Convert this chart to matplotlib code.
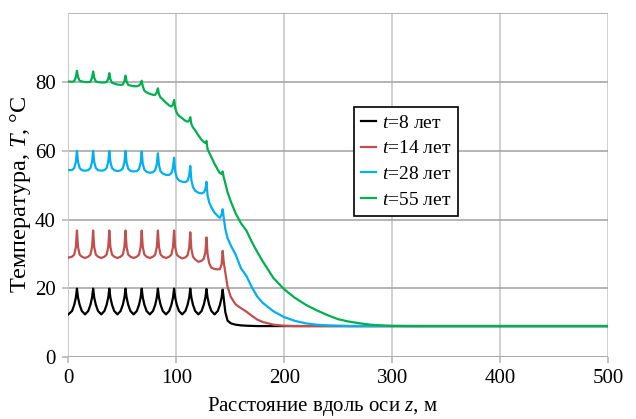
import matplotlib
matplotlib.use("Agg")
import matplotlib.pyplot as plt

# distance along the z axis, m (common grid for all curves)
Z = [0,
     3.5, 5.5, 7, 8, 9, 10.5, 12.5, 15.5,
     18.5, 20.5, 22, 23, 24, 25.5, 27.5, 30.5,
     33.5, 35.5, 37, 38, 39, 40.5, 42.5, 45.5,
     48.5, 50.5, 52, 53, 54, 55.5, 57.5, 60.5,
     63.5, 65.5, 67, 68, 69, 70.5, 72.5, 75.5,
     78.5, 80.5, 82, 83, 84, 85.5, 87.5, 90.5,
     93.5, 95.5, 97, 98, 99, 100.5, 102.5, 105.5,
     108.5, 110.5, 112, 113, 114, 115.5, 117.5, 120.5,
     123.5, 125.5, 127, 128, 129, 130.5, 132.5, 135.5,
     138.5, 140.5, 142, 143, 144, 145.5, 147.5, 150.5,
     155, 160, 165, 170, 175, 180, 190, 200, 210, 220, 230,
     240, 250, 260, 270, 280, 290, 300, 320, 350, 400, 450, 500]

T_8 = [12.4,
       13.4, 15.2, 17.3, 19.9, 17.3, 15.2, 13.4, 12.4,
       13.4, 15.2, 17.3, 19.9, 17.3, 15.2, 13.4, 12.4,
       13.4, 15.2, 17.3, 19.9, 17.3, 15.2, 13.4, 12.4,
       13.4, 15.2, 17.3, 19.9, 17.3, 15.2, 13.4, 12.4,
       13.4, 15.2, 17.3, 19.9, 17.3, 15.2, 13.4, 12.4,
       13.4, 15.2, 17.3, 19.9, 17.3, 15.2, 13.4, 12.4,
       13.4, 15.2, 17.3, 19.9, 17.3, 15.2, 13.4, 12.4,
       13.4, 15.2, 17.3, 19.9, 17.3, 15.2, 13.4, 12.4,
       13.4, 15.2, 17.3, 19.8, 17.3, 15.2, 13.4, 12.4,
       13.4, 15.2, 17.3, 19.6, 17.0, 13.0, 10.6, 9.8,
       9.4, 9.2, 9.1, 9.05, 9.0, 9.0, 9.0, 9.0, 9.0, 9.0, 9.0,
       9.0, 9.0, 9.0, 9.0, 9.0, 9.0, 9.0, 9.0, 9.0, 9.0, 9.0, 9.0]

T_14 = [28.9,
        29.2, 29.8, 32.0, 36.8, 32.0, 29.8, 29.2, 28.8,
        29.2, 29.8, 32.0, 36.8, 32.0, 29.8, 29.2, 28.8,
        29.2, 29.8, 32.0, 36.8, 32.0, 29.8, 29.2, 28.8,
        29.2, 29.8, 32.0, 36.8, 32.0, 29.8, 29.2, 28.8,
        29.2, 29.8, 32.0, 36.8, 32.0, 29.8, 29.2, 28.8,
        29.2, 29.8, 32.0, 36.8, 32.0, 29.8, 29.2, 28.8,
        29.2, 29.8, 32.0, 36.8, 32.0, 29.8, 29.2, 28.7,
        29.0, 29.6, 31.8, 36.3, 31.5, 29.2, 28.4, 27.7,
        28.0, 28.6, 30.5, 34.8, 30.0, 27.3, 26.0, 25.6,
        25.5, 25.6, 27.0, 30.9, 27.5, 24.5, 20.5, 17.5,
        15.3, 14.2, 13.2, 12.0, 10.9, 10.2, 9.4, 9.1, 9.0, 9.0, 9.0,
        9.0, 9.0, 9.0, 9.0, 9.0, 9.0, 9.0, 9.0, 9.0, 9.0, 9.0, 9.0]

T_28 = [54.4,
        54.4, 55.0, 56.8, 60.0, 56.8, 55.0, 54.4, 54.2,
        54.4, 55.0, 56.8, 60.0, 56.8, 55.0, 54.4, 54.2,
        54.4, 55.0, 56.8, 60.0, 56.8, 55.0, 54.4, 54.1,
        54.3, 54.9, 56.7, 60.0, 56.6, 54.8, 54.2, 54.0,
        54.1, 54.7, 56.5, 59.8, 56.2, 54.5, 53.9, 53.6,
        53.8, 54.4, 56.2, 59.3, 55.8, 54.0, 53.4, 53.0,
        53.0, 53.5, 55.2, 58.0, 54.0, 52.2, 51.4, 51.0,
        50.9, 51.3, 52.8, 55.6, 51.5, 49.5, 48.4, 47.8,
        47.6, 47.9, 48.8, 51.0, 47.0, 45.0, 43.6, 42.0,
        41.0, 40.5, 41.5, 43.0, 40.5, 37.2, 34.6, 32.5,
        29.8, 25.8, 23.6, 20.3, 17.6, 15.8, 13.3, 11.6, 10.5, 9.8, 9.4,
        9.2, 9.1, 9.0, 9.0, 9.0, 9.0, 9.0, 9.0, 9.0, 9.0, 9.0, 9.0]

T_55 = [80.2,
        80.1, 80.3, 81.5, 83.3, 81.5, 80.4, 80.2, 80.0,
        80.0, 80.1, 81.3, 83.1, 81.3, 80.2, 80.0, 79.9,
        79.9, 80.0, 81.0, 82.6, 80.8, 79.8, 79.6, 79.3,
        79.2, 79.3, 80.3, 81.9, 80.2, 79.2, 79.0, 78.8,
        78.8, 79.0, 79.5, 80.4, 78.8, 77.5, 77.0, 76.6,
        76.3, 76.3, 77.0, 78.2, 76.5, 75.5, 75.0, 74.0,
        73.2, 72.9, 73.5, 74.8, 72.5, 71.0, 70.2, 69.5,
        68.7, 68.5, 68.8, 69.8, 67.8, 66.8, 66.0, 64.5,
        63.2, 62.6, 62.3, 62.9, 60.5, 59.5, 58.2, 56.2,
        54.5, 53.5, 53.3, 54.0, 52.3, 50.5, 48.0, 45.3,
        41.8, 38.9, 36.8, 33.5, 30.6, 27.9, 23.0, 19.7, 17.2, 15.2, 13.6,
        12.2, 11.0, 10.3, 9.8, 9.4, 9.2, 9.05, 9.0, 9.0, 9.0, 9.0, 9.0]

SERIES = [
    ("$t$=8 лет", T_8, "#000000"),
    ("$t$=14 лет", T_14, "#c0504d"),
    ("$t$=28 лет", T_28, "#00b0f0"),
    ("$t$=55 лет", T_55, "#00b050"),
]

plt.rcParams["font.family"] = ["Liberation Serif", "DejaVu Serif"]
plt.rcParams["mathtext.fontset"] = "custom"
plt.rcParams["mathtext.rm"] = "Liberation Serif"
plt.rcParams["mathtext.it"] = "Liberation Serif:italic"

fig = plt.figure(figsize=(6.36, 4.19), dpi=100)
ax = fig.add_axes([0.1074, 0.148, 0.8486, 0.820])

for label, temps, color in SERIES:
    ax.plot(Z, temps, color=color, lw=1.6, label=label, zorder=3)

ax.set_xlim(0, 500)
ax.set_ylim(0, 100)
ax.set_xticks([0, 100, 200, 300, 400, 500])
ax.set_yticks([0, 20, 40, 60, 80])

ax.xaxis.grid(True, color="#c8c8c8", lw=1.2)
ax.yaxis.grid(True, color="#a8a8a8", lw=1.2)
ax.axhline(100, color="#a8a8a8", lw=1.2)
for side in ["left", "right", "top", "bottom"]:
    ax.spines[side].set_visible(False)
ax.axvline(0, color="#c8c8c8", lw=1.2)
ax.axhline(0, color="#a8a8a8", lw=1.2)
ax.tick_params(axis="both", length=4, width=1.2, color="#b8b8b8",
               labelsize=15, pad=5)

ax.set_xlabel("Расстояние вдоль оси $z$, м", fontsize=15)
ax.set_ylabel("Температура, $T$, °C", fontsize=17.5)
ax.xaxis.set_label_coords(0.47, -0.1455)
ax.yaxis.set_label_coords(-0.088, 0.474)
ax.xaxis.label.set_va("center")
ax.yaxis.label.set_va("center")

leg = ax.legend(loc="upper left", bbox_to_anchor=(0.529, 0.727),
                fontsize=14, frameon=True, fancybox=False,
                edgecolor="black", framealpha=1, handlelength=0.8,
                handletextpad=0.3, labelspacing=0.42, borderpad=0.35,
                borderaxespad=0)
leg.get_frame().set_linewidth(1.2)

fig.savefig("out.png", dpi=100)
